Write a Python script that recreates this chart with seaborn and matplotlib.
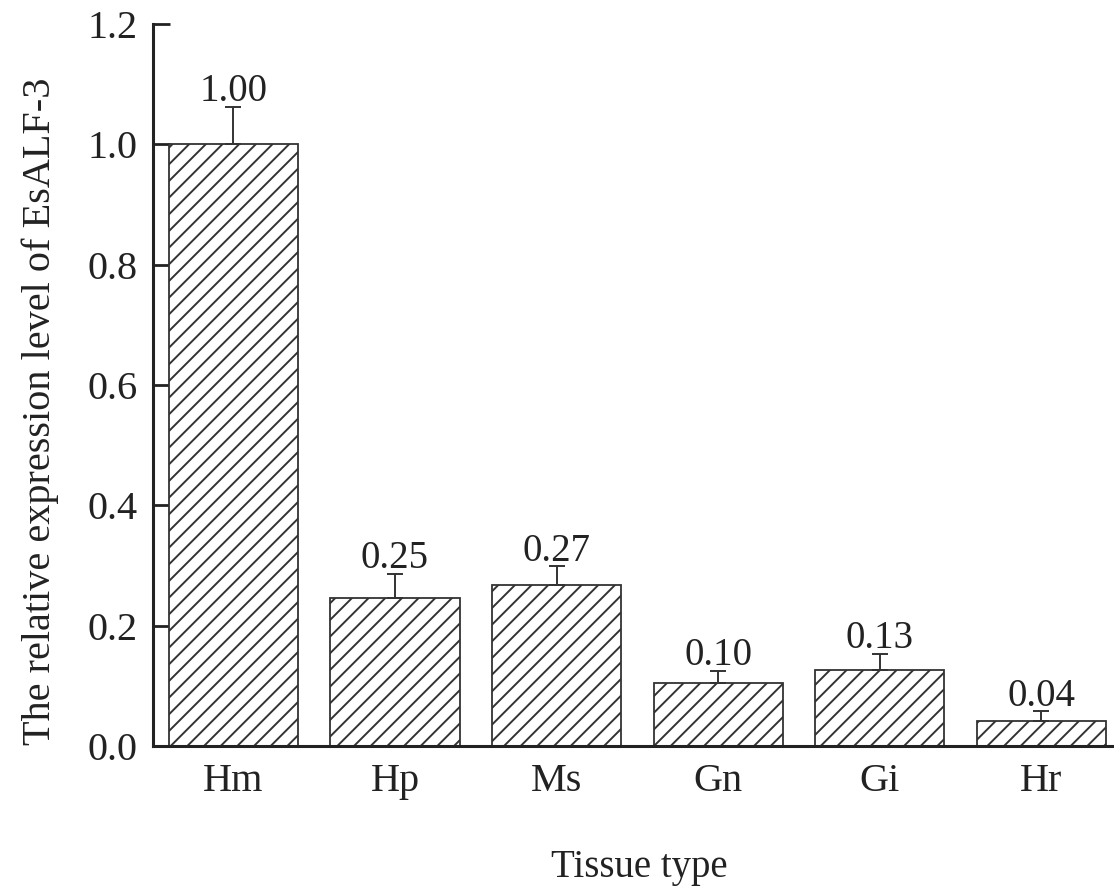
import numpy as np
import pandas as pd
import seaborn as sns
import matplotlib
matplotlib.use("Agg")
import matplotlib.pyplot as plt

# data
tissues = ["Hm", "Hp", "Ms", "Gn", "Gi", "Hr"]
expression = [1.00, 0.246, 0.268, 0.105, 0.126, 0.042]
err_upper = [0.062, 0.040, 0.031, 0.020, 0.027, 0.016]
labels = ["1.00", "0.25", "0.27", "0.10", "0.13", "0.04"]

sns.set_style("ticks")
plt.rcParams["font.family"] = ["Liberation Serif", "DejaVu Serif"]
plt.rcParams["hatch.linewidth"] = 1.4
plt.rcParams["hatch.color"] = "#333333"

df = pd.DataFrame({"tissue": tissues, "value": expression})

fig = plt.figure(figsize=(11.14, 8.86), dpi=100)
ax = fig.add_axes([0.137, 0.158, 0.863, 0.815])

sns.barplot(data=df, x="tissue", y="value", ax=ax, color="white",
            edgecolor="#333333", linewidth=1.3, width=0.8, hatch="//")

xs = np.arange(len(tissues))
ax.errorbar(xs, expression, yerr=[np.zeros(len(xs)), err_upper], fmt="none",
            ecolor="#333333", elinewidth=1.4, capsize=6, capthick=1.4)

for x, y, e, t in zip(xs, expression, err_upper, labels):
    ax.annotate(t, (x, y + e), xytext=(0, 4), textcoords="offset points",
                ha="center", va="baseline", fontsize=28, color="#222222")

ax.set_ylim(0, 1.2)
ax.set_xlim(-0.5, 5.45)
ax.set_yticks(np.arange(0, 1.21, 0.2))
ax.set_yticklabels([f"{v:.1f}" for v in np.arange(0, 1.21, 0.2)])
ax.tick_params(axis="y", direction="in", length=12, width=2, labelsize=29,
               colors="#222222", pad=11)
ax.tick_params(axis="x", length=0, labelsize=29, colors="#222222", pad=12)
for s in ["top", "right"]:
    ax.spines[s].set_visible(False)
for s in ["left", "bottom"]:
    ax.spines[s].set_linewidth(2.2)
    ax.spines[s].set_color("#222222")

ax.set_xlabel("Tissue type", fontsize=28, color="#222222")
ax.set_ylabel("The relative expression level of EsALF-3", fontsize=29,
              color="#222222")
ax.xaxis.set_label_coords(0.506, -0.143)
ax.yaxis.set_label_coords(-0.097, 0.463)

fig.savefig("out.png", dpi=100)
